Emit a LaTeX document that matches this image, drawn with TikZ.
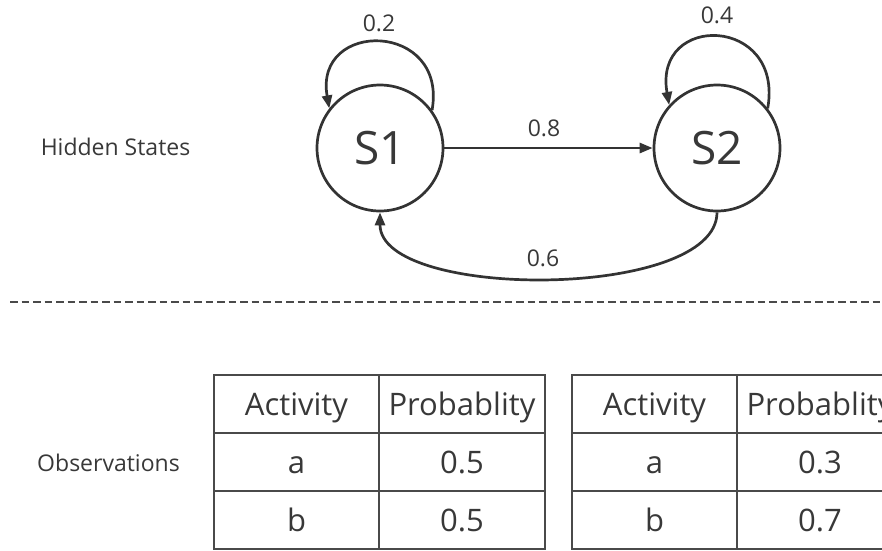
\documentclass[tikz,border=0pt]{standalone}
\usepackage{fontspec}
\setmainfont{Open Sans}
\usetikzlibrary{arrows.meta}

\definecolor{ink}{HTML}{333333}
\definecolor{txt}{HTML}{383838}
\definecolor{rule}{HTML}{4A4A4A}

\begin{document}
\begin{tikzpicture}[x=1pt,y=-1pt,
  state/.style={circle,draw=ink,line width=2.7pt,minimum size=126pt,inner sep=0pt,
    text=txt,font=\fontsize{46}{50}\selectfont,text height=33pt,text depth=0pt},
  trans/.style={draw=ink,line width=2.7pt,-{Triangle[length=13pt,width=10pt]}},
  lbl/.style={text=txt,inner sep=0pt,font=\fontsize{23}{26}\selectfont,
    text height=16.4pt,text depth=0pt},
  cell/.style={draw=rule,line width=1.6pt,inner sep=0pt,text=txt,
    minimum height=58pt,font=\fontsize{31}{34}\selectfont,text height=22pt,text depth=0pt},
  colA/.style={cell,minimum width=165pt},
  colB/.style={cell,minimum width=166pt},
  sep/.style={draw=rule,line width=1.8pt,dash pattern=on 7.5pt off 4pt}
]
\clip (0,0) rectangle (882,550);

% row captions
\node[lbl] (hidden) at (115.5,147.5) {Hidden States};
\node[lbl] (obs) at (108.5,463) {Observations};

% hidden states and transitions
\node[state] (S1) at (380,148) {S1};
\node[state] (S2) at (717,148) {S2};

\draw[trans] (S1) -- (S2);
\draw[trans] (S1.36) to[out=80,in=100,looseness=2.25] (S1.142);
\draw[trans] (S2.38) to[out=80,in=100,looseness=2.44] (S2.138);
\draw[trans] (S2.south) .. controls +(0,88) and +(0,88) .. (S1.south);

\node[lbl] (p11) at (379,23) {0.2};
\node[lbl] (p22) at (717,15) {0.4};
\node[lbl] (p12) at (544,128) {0.8};
\node[lbl] (p21) at (543,258) {0.6};

% separator between the two layers
\coordinate (sepL) at (10,302);
\coordinate (sepR) at (882,302);
\draw[sep] (sepL) -- (sepR);

% emission table of S1
\node[colA] (t1h1) at (296.5,404) {Activity};
\node[colB] (t1h2) at (462,404) {Probablity};
\node[colA] (t1a1) at (296.5,462) {a};
\node[colB] (t1a2) at (462,462) {0.5};
\node[colA] (t1b1) at (296.5,520) {b};
\node[colB] (t1b2) at (462,520) {0.5};

% emission table of S2
\node[colA] (t2h1) at (654.5,404) {Activity};
\node[colB] (t2h2) at (820,404) {Probablity};
\node[colA] (t2a1) at (654.5,462) {a};
\node[colB] (t2a2) at (820,462) {0.3};
\node[colA] (t2b1) at (654.5,520) {b};
\node[colB] (t2b2) at (820,520) {0.7};
\end{tikzpicture}
\end{document}
